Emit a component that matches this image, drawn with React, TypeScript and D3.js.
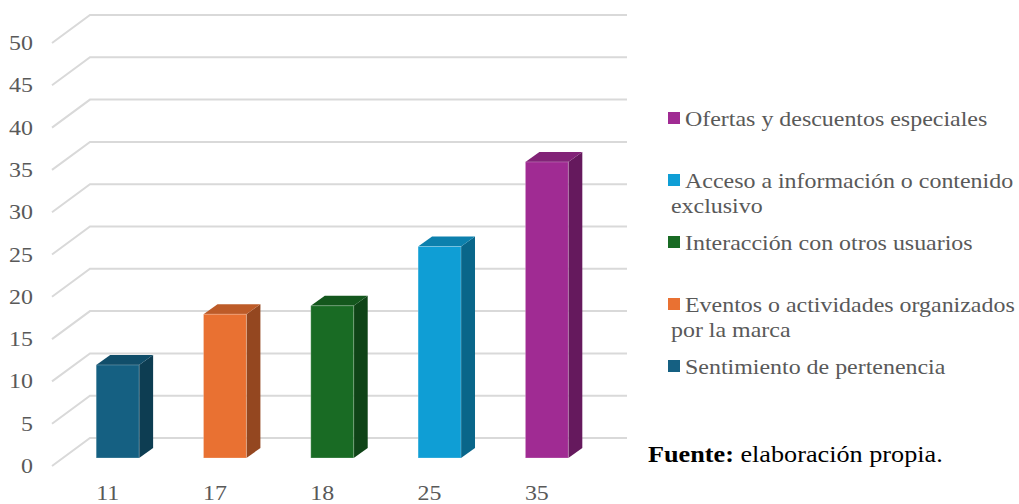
import React from "react";
import * as d3 from "d3";

// Survey results: one bar per motivation, labelled with its count
const categories = ["11", "17", "18", "25", "35"];
const values = [11, 17, 18, 25, 35];
const seriesNames = [
  "Sentimiento de pertenencia",
  "Eventos o actividades organizados por la marca",
  "Interacción con otros usuarios",
  "Acceso a información o contenido exclusivo",
  "Ofertas y descuentos especiales",
];
// Legend lines (wrapped to fit the legend column)
const legendLines = [
  ["Sentimiento de pertenencia"],
  ["Eventos o actividades organizados", "por la marca"],
  ["Interacción con otros usuarios"],
  ["Acceso a información o contenido", "exclusivo"],
  ["Ofertas y descuentos especiales"],
];
const yTicks = [0, 5, 10, 15, 20, 25, 30, 35, 40, 45, 50];

const frontColors = ["#156082", "#E97132", "#196B24", "#0F9ED5", "#A02B93"];
const topColors = ["#114E6A", "#BD5B28", "#14571D", "#0C80AD", "#822377"];
const sideColors = ["#0D3D52", "#944720", "#0F4417", "#09668A", "#65195D"];

const W = 1019;
const H = 504;
const FONT = "'Times New Roman', 'Liberation Serif', serif";
const STRETCH = 1.14; // glyphs are drawn slightly wide

// Back wall and floor geometry
const wallLeft = 90;
const wallRight = 627;
const floorDX = 38; // floor depth, horizontal
const floorDY = 28; // floor depth, vertical
const barFrontDY = 20; // bar front face below the back wall plane
const barDepthX = 14;
const barDepthY = 10;

type LabelProps = {
  x: number;
  y: number;
  anchor?: "start" | "middle" | "end";
  size?: number;
  fill?: string;
  children: React.ReactNode;
};

function Label({ x, y, anchor = "start", size = 21, fill = "#595959", children }: LabelProps) {
  return (
    <text
      transform={`translate(${x},${y}) scale(${STRETCH},1)`}
      textAnchor={anchor}
      fontSize={size}
      fill={fill}
    >
      {children}
    </text>
  );
}

export default function App() {
  const y = d3.scaleLinear().domain([0, 50]).range([438, 15]);
  const x = d3
    .scaleBand<string>()
    .domain(categories)
    .range([64, 600.5])
    .paddingInner(0.6)
    .paddingOuter(0.3);
  const bw = x.bandwidth();

  return (
    <svg
      width={W}
      height={H}
      style={{ position: "absolute", left: 0, top: 0, background: "#fff" }}
      fontFamily={FONT}
    >
      {/* gridlines: floor diagonal + back wall line */}
      {yTicks.map((t) => {
        const yb = y(t);
        return (
          <g key={t}>
            <polyline
              points={`${wallLeft - floorDX},${yb + floorDY} ${wallLeft},${yb} ${wallRight},${yb}`}
              fill="none"
              stroke="#D9D9D9"
              strokeWidth={2}
            />
            <Label x={33} y={yb + floorDY + 7} anchor="end">
              {t}
            </Label>
          </g>
        );
      })}

      {/* 3D bars */}
      {values.map((v, i) => {
        const x0 = x(categories[i]) as number;
        const x1 = x0 + bw;
        const yTop = y(v) + barFrontDY;
        const yBase = y(0) + barFrontDY;
        const dx = barDepthX;
        const dy = barDepthY;
        return (
          <g key={i}>
            <polygon
              points={`${x1},${yTop} ${x1 + dx},${yTop - dy} ${x1 + dx},${yBase - dy} ${x1},${yBase}`}
              fill={sideColors[i]}
            />
            <polygon
              points={`${x0},${yTop} ${x0 + dx},${yTop - dy} ${x1 + dx},${yTop - dy} ${x1},${yTop}`}
              fill={topColors[i]}
            />
            <rect
              x={x0}
              y={yTop}
              width={bw}
              height={yBase - yTop}
              fill={frontColors[i]}
              stroke="rgba(255,255,255,0.25)"
              strokeWidth={1}
            />
          </g>
        );
      })}

      {/* category labels along the front edge */}
      {categories.map((c) => (
        <Label key={c} x={(x(c) as number) + bw / 2 - 10} y={500} anchor="middle">
          {c}
        </Label>
      ))}

      {/* legend, last series on top */}
      {seriesNames
        .map((name, i) => ({ name, i }))
        .reverse()
        .map(({ name, i }, k) => {
          const base = 126 + k * 62;
          return (
            <g key={name}>
              <rect x={668} y={base - 14} width={12} height={12} fill={frontColors[i]} />
              {legendLines[i].map((line, j) => (
                <Label key={j} x={j === 0 ? 685 : 671} y={base + j * 25}>
                  {line}
                </Label>
              ))}
            </g>
          );
        })}

      <Label x={648} y={462} size={23} fill="#000">
        <tspan fontWeight="bold">Fuente:</tspan> elaboración propia.
      </Label>
    </svg>
  );
}
